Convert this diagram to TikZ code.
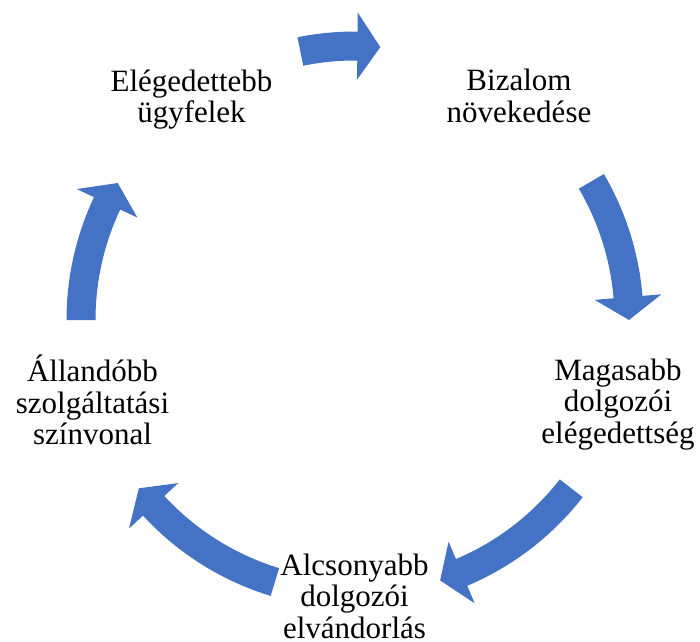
\documentclass[tikz,border=0pt]{standalone}
\usepackage{fontspec}
\setmainfont{Liberation Serif}
\definecolor{smartblue}{HTML}{4472C4}
\newcommand\lbl[1]{\vtop{\baselineskip=31.5pt\lineskiplimit=-\maxdimen\halign{\hfil##\hfil\cr#1\crcr}}}
\newcommand\cycarrow[2]{%
  \pgfmathsetmacro\hb{#2+4.8}%
  \fill[arrowfill] (#1:288.5) arc[start angle=#1, end angle=\hb, radius=288.5]
    -- (\hb:307.5) -- (#2:274) -- (\hb:240.5) -- (\hb:259.5)
    arc[start angle=\hb, end angle=#1, radius=259.5] -- cycle;}
\begin{document}
\begin{tikzpicture}[x=1pt,y=1pt,
  arrowfill/.style={fill=smartblue},
  lab/.style={inner sep=0pt, anchor=base, font=\fontsize{31}{31.5}\selectfont}]
\useasboundingbox (0,0) rectangle (700,641);
\begin{scope}[shift={(355,321)}]
  \cycarrow{101.5}{84.7}
  \cycarrow{30.4}{0}
  \cycarrow{-37.9}{-71.9}
  \cycarrow{-107}{-142.1}
  \cycarrow{180}{150}
\end{scope}
\node[lab] (trust) at (519,550) {\lbl{Bizalom\cr növekedése}};
\node[lab] (satisf) at (618,261) {\lbl{Magasabb\cr dolgozói\cr elégedettség}};
\node[lab] (migr) at (354.5,66) {\lbl{Alcsonyabb\cr dolgozói\cr elvándorlás}};
\node[lab] (service) at (92.5,259.5) {\lbl{Állandóbb\cr szolgáltatási\cr színvonal}};
\node[lab] (clients) at (191.5,549.5) {\lbl{Elégedettebb\cr ügyfelek}};
\end{tikzpicture}
\end{document}
